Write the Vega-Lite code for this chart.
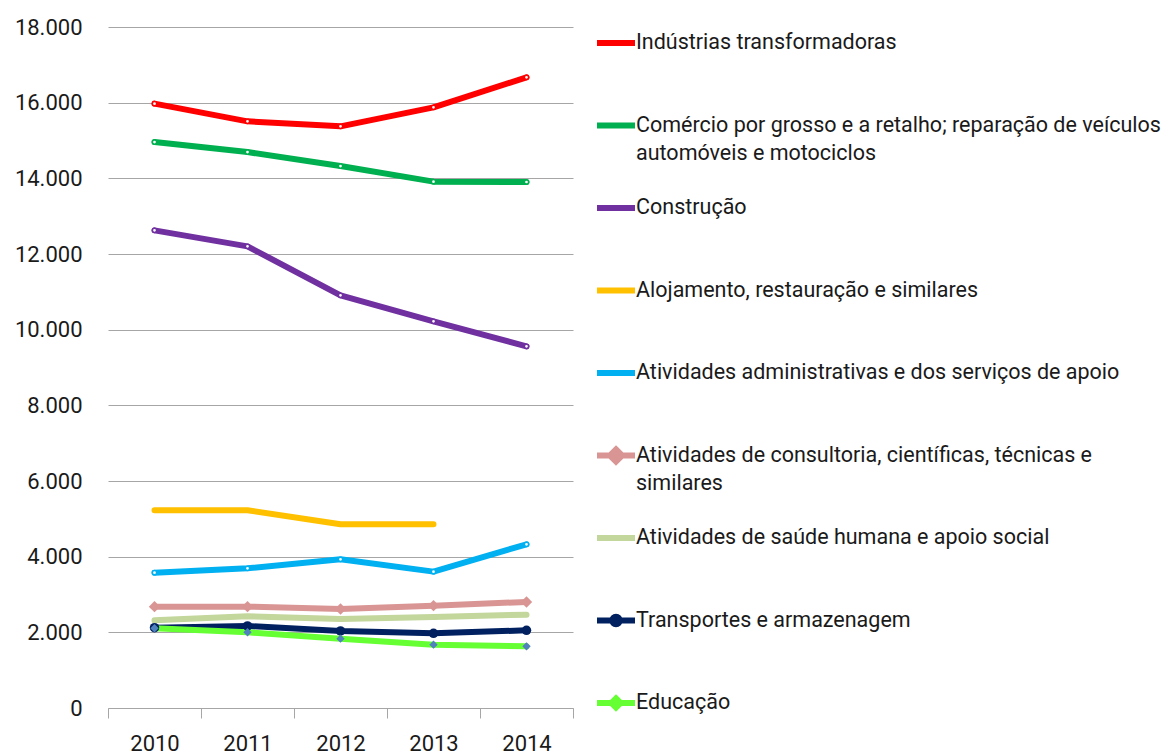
{
  "$schema": "https://vega.github.io/schema/vega-lite/v6.json",
  "autosize": {"type": "none"},
  "padding": {"left": 108, "top": 27, "right": 589, "bottom": 47},
  "width": 465,
  "height": 681,
  "config": {
    "font": "Roboto",
    "view": {"stroke": null},
    "axis": {"labelFont": "Roboto", "labelFontSize": 22, "labelColor": "#1a1a1a"}
  },
  "data": {
    "values": [
      {"series": "Indústrias transformadoras", "year": "2010", "value": 15974},
      {"series": "Indústrias transformadoras", "year": "2011", "value": 15506},
      {"series": "Indústrias transformadoras", "year": "2012", "value": 15374},
      {"series": "Indústrias transformadoras", "year": "2013", "value": 15876},
      {"series": "Indústrias transformadoras", "year": "2014", "value": 16669},
      {"series": "Comércio por grosso e a retalho; reparação de veículos automóveis e motociclos", "year": "2010", "value": 14959},
      {"series": "Comércio por grosso e a retalho; reparação de veículos automóveis e motociclos", "year": "2011", "value": 14694},
      {"series": "Comércio por grosso e a retalho; reparação de veículos automóveis e motociclos", "year": "2012", "value": 14324},
      {"series": "Comércio por grosso e a retalho; reparação de veículos automóveis e motociclos", "year": "2013", "value": 13912},
      {"series": "Comércio por grosso e a retalho; reparação de veículos automóveis e motociclos", "year": "2014", "value": 13903},
      {"series": "Construção", "year": "2010", "value": 12625},
      {"series": "Construção", "year": "2011", "value": 12202},
      {"series": "Construção", "year": "2012", "value": 10907},
      {"series": "Construção", "year": "2013", "value": 10220},
      {"series": "Construção", "year": "2014", "value": 9559},
      {"series": "Alojamento, restauração e similares", "year": "2010", "value": 5226},
      {"series": "Alojamento, restauração e similares", "year": "2011", "value": 5226},
      {"series": "Alojamento, restauração e similares", "year": "2012", "value": 4856},
      {"series": "Alojamento, restauração e similares", "year": "2013", "value": 4856},
      {"series": "Atividades administrativas e dos serviços de apoio", "year": "2010", "value": 3577},
      {"series": "Atividades administrativas e dos serviços de apoio", "year": "2011", "value": 3693},
      {"series": "Atividades administrativas e dos serviços de apoio", "year": "2012", "value": 3931},
      {"series": "Atividades administrativas e dos serviços de apoio", "year": "2013", "value": 3604},
      {"series": "Atividades administrativas e dos serviços de apoio", "year": "2014", "value": 4327},
      {"series": "Atividades de consultoria, científicas, técnicas e similares", "year": "2010", "value": 2679},
      {"series": "Atividades de consultoria, científicas, técnicas e similares", "year": "2011", "value": 2679},
      {"series": "Atividades de consultoria, científicas, técnicas e similares", "year": "2012", "value": 2618},
      {"series": "Atividades de consultoria, científicas, técnicas e similares", "year": "2013", "value": 2705},
      {"series": "Atividades de consultoria, científicas, técnicas e similares", "year": "2014", "value": 2803},
      {"series": "Atividades de saúde humana e apoio social", "year": "2010", "value": 2319},
      {"series": "Atividades de saúde humana e apoio social", "year": "2011", "value": 2425},
      {"series": "Atividades de saúde humana e apoio social", "year": "2012", "value": 2354},
      {"series": "Atividades de saúde humana e apoio social", "year": "2013", "value": 2407},
      {"series": "Atividades de saúde humana e apoio social", "year": "2014", "value": 2467},
      {"series": "Transportes e armazenagem", "year": "2010", "value": 2124},
      {"series": "Transportes e armazenagem", "year": "2011", "value": 2168},
      {"series": "Transportes e armazenagem", "year": "2012", "value": 2036},
      {"series": "Transportes e armazenagem", "year": "2013", "value": 1975},
      {"series": "Transportes e armazenagem", "year": "2014", "value": 2054},
      {"series": "Educação", "year": "2010", "value": 2107},
      {"series": "Educação", "year": "2011", "value": 2001},
      {"series": "Educação", "year": "2012", "value": 1833},
      {"series": "Educação", "year": "2013", "value": 1674},
      {"series": "Educação", "year": "2014", "value": 1630}
    ]
  },
  "encoding": {
    "x": {
      "field": "year", "type": "ordinal",
      "scale": {"type": "band", "paddingInner": 0, "paddingOuter": 0},
      "axis": {"title": null, "labelAngle": 0, "tickBand": "extent", "tickSize": 10, "tickColor": "#A6A6A6", "domainColor": "#A6A6A6", "labelPadding": 15, "grid": false}
    },
    "y": {
      "field": "value", "type": "quantitative",
      "scale": {"domain": [0, 18000], "nice": false},
      "axis": {"title": null, "values": [0, 2000, 4000, 6000, 8000, 10000, 12000, 14000, 16000, 18000], "grid": true, "gridColor": "#A6A6A6", "domain": false, "ticks": false, "labelPadding": 26, "labelExpr": "replace(format(datum.value, ','), ',', '.')"}
    }
  },
  "layer": [
    {
      "mark": {"type": "line", "strokeCap": "round", "strokeJoin": "round"},
      "encoding": {
        "color": {
          "field": "series", "type": "nominal",
          "scale": {
            "domain": ["Indústrias transformadoras", "Comércio por grosso e a retalho; reparação de veículos automóveis e motociclos", "Construção", "Alojamento, restauração e similares", "Atividades administrativas e dos serviços de apoio", "Atividades de consultoria, científicas, técnicas e similares", "Atividades de saúde humana e apoio social", "Transportes e armazenagem", "Educação"],
            "range": ["#FF0000", "#00B050", "#7030A0", "#FFC000", "#00B0F0", "#D99594", "#C3D69B", "#002060", "#66FF33"]
          },
          "legend": {
            "title": null, "orient": "none", "legendX": 486, "legendY": -6, "padding": 0,
            "symbolType": "stroke", "symbolSize": 1444, "symbolStrokeWidth": 5,
            "labelFont": "Roboto", "labelFontSize": 21.5, "labelColor": "#1a1a1a", "labelLimit": 700, "labelOffset": -2,
            "rowPadding": 21.5, "symbolLimit": 0, "gridAlign": "all",
            "labelExpr": "split(replace(replace(datum.label, 'veículos ', 'veículos|'), 'técnicas e ', 'técnicas e|'), '|')",
            "encode": {
              "labels": {"update": {"lineHeight": {"value": 28}}},
              "symbols": {"update": {
                "strokeWidth": {"signal": "datum.index <= 2 || datum.index == 4 ? 6 : 3"},
                "shape": {"signal": "datum.index == 5 ? 'M-1,0L1,0M0,-0.32L0.32,0L0,0.32L-0.32,0Z' : datum.index == 8 ? 'M-1,0L1,0M0,-0.24L0.24,0L0,0.24L-0.24,0Z' : datum.index == 7 ? 'M-1,0L1,0M-0.2,0A0.2,0.2,0,1,0,0.2,0A0.2,0.2,0,1,0,-0.2,0Z' : 'stroke'"},
                "fill": {"signal": "datum.index == 5 ? '#D99594' : datum.index == 7 ? '#002060' : datum.index == 8 ? '#4F81BD' : 'transparent'"}
              }}
            }
          }
        },
        "strokeWidth": {
          "field": "series", "type": "nominal", "legend": null,
          "scale": {
            "domain": ["Indústrias transformadoras", "Comércio por grosso e a retalho; reparação de veículos automóveis e motociclos", "Construção", "Alojamento, restauração e similares", "Atividades administrativas e dos serviços de apoio", "Atividades de consultoria, científicas, técnicas e similares", "Atividades de saúde humana e apoio social", "Transportes e armazenagem", "Educação"],
            "range": [6, 6, 6, 2.5, 6, 3.5, 3.5, 2.5, 2.5]
          }
        }
      }
    },
    {
      "transform": [{"filter": {"field": "series", "oneOf": ["Indústrias transformadoras", "Comércio por grosso e a retalho; reparação de veículos automóveis e motociclos", "Construção", "Atividades administrativas e dos serviços de apoio"]}}],
      "mark": {"type": "point", "shape": "circle", "filled": false, "fill": "white", "fillOpacity": 1, "size": 18, "strokeWidth": 1.5, "opacity": 1},
      "encoding": {
        "stroke": {
          "field": "series", "type": "nominal", "legend": null,
          "scale": {
            "domain": ["Indústrias transformadoras", "Comércio por grosso e a retalho; reparação de veículos automóveis e motociclos", "Construção", "Atividades administrativas e dos serviços de apoio"],
            "range": ["#FF0000", "#00B050", "#7030A0", "#00B0F0"]
          }
        }
      }
    },
    {
      "transform": [{"filter": {"field": "series", "equal": "Atividades de consultoria, científicas, técnicas e similares"}}],
      "mark": {"type": "point", "shape": "diamond", "filled": true, "color": "#D99594", "size": 130, "opacity": 1}
    },
    {
      "transform": [{"filter": {"field": "series", "equal": "Transportes e armazenagem"}}],
      "mark": {"type": "point", "shape": "circle", "filled": true, "color": "#002060", "size": 90, "opacity": 1}
    },
    {
      "transform": [{"filter": {"field": "series", "equal": "Educação"}}],
      "mark": {"type": "point", "shape": "diamond", "filled": true, "color": "#4F81BD", "size": 70, "opacity": 1}
    }
  ]
}
